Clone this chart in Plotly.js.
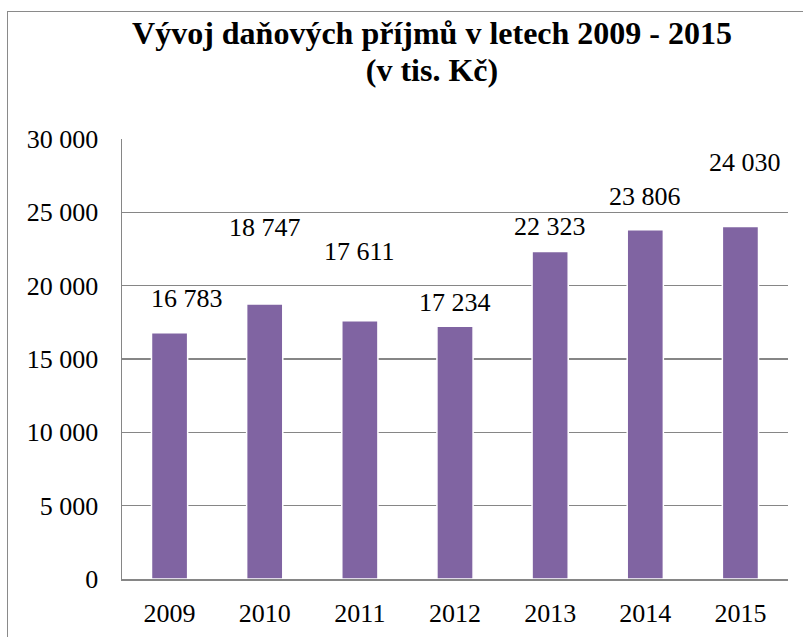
<!DOCTYPE html>
<html>
<head>
<meta charset="utf-8">
<script src="https://cdn.plot.ly/plotly-3.0.1.min.js"></script>
<style>
  html, body { margin: 0; padding: 0; background: #fff; }
  #wrap { position: relative; width: 803px; height: 637px; overflow: hidden; }
  #chart { position: absolute; left: 0; top: 0; width: 803px; height: 637px; }
  #frame { position: absolute; left: 7px; top: 11px; width: 900px; height: 700px;
           border: 1.5px solid #8a8a8a; pointer-events: none; }
</style>
</head>
<body>
<div id="wrap">
  <div id="chart"></div>
  <div id="frame"></div>
</div>
<script>
// Data
const years = ["2009", "2010", "2011", "2012", "2013", "2014", "2015"];
const income = [16783, 18747, 17611, 17234, 22323, 23806, 24030];
const yTickVals = [0, 5000, 10000, 15000, 20000, 25000, 30000];
const titleLines = ["Vývoj daňových příjmů v letech 2009 - 2015", "(v tis. Kč)"];

// label placement offsets (px) as in the original figure
const labelShiftY = [34, 77, 69, 24, 25, 33, 64];
const labelShiftX = [17, 0, 0, 0, 0, 0, 5];

function fmt(v) {
  return String(v).replace(/\B(?=(\d{3})+(?!\d))/g, " ");
}

(function draw() {
  const FF = "'Liberation Serif', 'Times New Roman', serif";
  const titleText = titleLines
    .map(t => "<b><span style='font-size:32px'>" + t + "</span></b>")
    .join("<br>");

  const trace = {
    type: "bar",
    x: years,
    y: income,
    marker: { color: "#8064A2", line: { color: "#ffffff", width: 1.5 } }
  };

  const anns = years.map((yr, i) => ({
    x: i, y: income[i], xref: "x", yref: "y",
    text: fmt(income[i]), showarrow: false,
    yanchor: "middle", xanchor: "center",
    yshift: labelShiftY[i], xshift: labelShiftX[i],
    font: { family: FF, size: 26, color: "#000" }
  }));

  const layout = {
    width: 803, height: 637,
    margin: { l: 122, r: 15, t: 139, b: 58 },
    paper_bgcolor: "#fff", plot_bgcolor: "#fff",
    showlegend: false,
    bargap: 0.62,
    title: {
      text: titleText,
      font: { family: FF, size: 28.5, color: "#000" },
      x: 432 / 803, xanchor: "center", xref: "container",
      y: 1 - 44 / 637, yanchor: "top", yref: "container"
    },
    xaxis: {
      type: "category",
      range: [-0.5, years.length - 0.5],
      showgrid: false,
      showline: true, linecolor: "#868686", linewidth: 1.5,
      ticks: "outside", ticklen: 10, tickcolor: "rgba(0,0,0,0)",
      tickfont: { family: FF, size: 26, color: "#000" }
    },
    yaxis: {
      range: [0, 30000],
      tickvals: yTickVals,
      ticktext: yTickVals.map(fmt),
      showgrid: true, gridcolor: "#868686", gridwidth: 1.5,
      zeroline: false,
      showline: true, linecolor: "#868686", linewidth: 1.5,
      ticks: "outside", ticklen: 17, tickcolor: "rgba(0,0,0,0)",
      tickfont: { family: FF, size: 26, color: "#000" }
    },
    annotations: anns
  };

  Plotly.newPlot("chart", [trace], layout, { displayModeBar: false, staticPlot: true });
})();
</script>
</body>
</html>
